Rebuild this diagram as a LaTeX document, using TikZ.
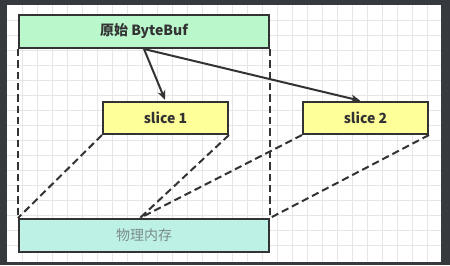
\documentclass[tikz,border=0pt]{standalone}
\usepackage{fontspec}
\setmainfont{Noto Sans CJK SC}
\usepackage{tikz}
\usetikzlibrary{arrows.meta,positioning,calc}
\definecolor{framec}{HTML}{36393D}
\definecolor{gridc}{HTML}{E6E6E6}
\definecolor{bufc}{HTML}{BAF8CC}
\definecolor{slicec}{HTML}{FFFF99}
\definecolor{memc}{HTML}{BDF1E5}
\definecolor{linec}{HTML}{333333}
\definecolor{memtext}{HTML}{7B8B8B}

\begin{document}
\begin{tikzpicture}[x=0.75pt,y=-0.75pt,>={Stealth[length=7pt,width=6pt]},
 font=\fontsize{10.5}{12}\selectfont,
 box/.style={draw=linec,line width=1.5pt,minimum width=187.5pt,minimum height=24.75pt,inner sep=0pt},
 slicebox/.style={box,fill=slicec,minimum width=93.75pt,minimum height=24pt,font=\fontsize{10.5}{12}\selectfont\bfseries,text=linec},
 link/.style={->,line width=1.5pt,draw=linec,shorten >=1pt},
 share/.style={line width=1.5pt,draw=linec,dash pattern=on 5.5pt off 3pt}]
% frame and grid
\fill[framec] (0,0) rectangle (450,265);
\fill[white] (7,5) rectangle (441,262);
\foreach \gx in {22,37,...,427} \draw[gridc,line width=0.75pt] (\gx,5)--(\gx,262);
\foreach \gy in {20,35,...,250} \draw[gridc,line width=0.75pt] (7,\gy)--(441,\gy);
% boxes
\node[box,fill=bufc,font=\fontsize{10.5}{12}\selectfont\bfseries,text=linec] (buf) at (144,31.5) {原始 ByteBuf};
\node[slicebox] (s1) at (165.5,118) {slice 1};
\node[slicebox] (s2) at (365.5,118) {slice 2};
\node[box,fill=memc,text=memtext] (mem) at (144,235.5) {物理内存};
% connectors
\draw[share] (buf.south west)--(mem.north west);
\draw[share] (buf.south east)--(mem.north east);
\draw[share] (s1.south west)--(mem.north west);
\draw[share] (s1.south east)--([xshift=-3pt]mem.north);
\draw[share] (s2.south west)--([xshift=-3pt]mem.north);
\draw[share] (s2.south east)--(mem.north east);
\draw[link] (buf.south)--(s1.north);
\draw[link] (buf.south)--([xshift=-3pt]s2.north);
\end{tikzpicture}
\end{document}
